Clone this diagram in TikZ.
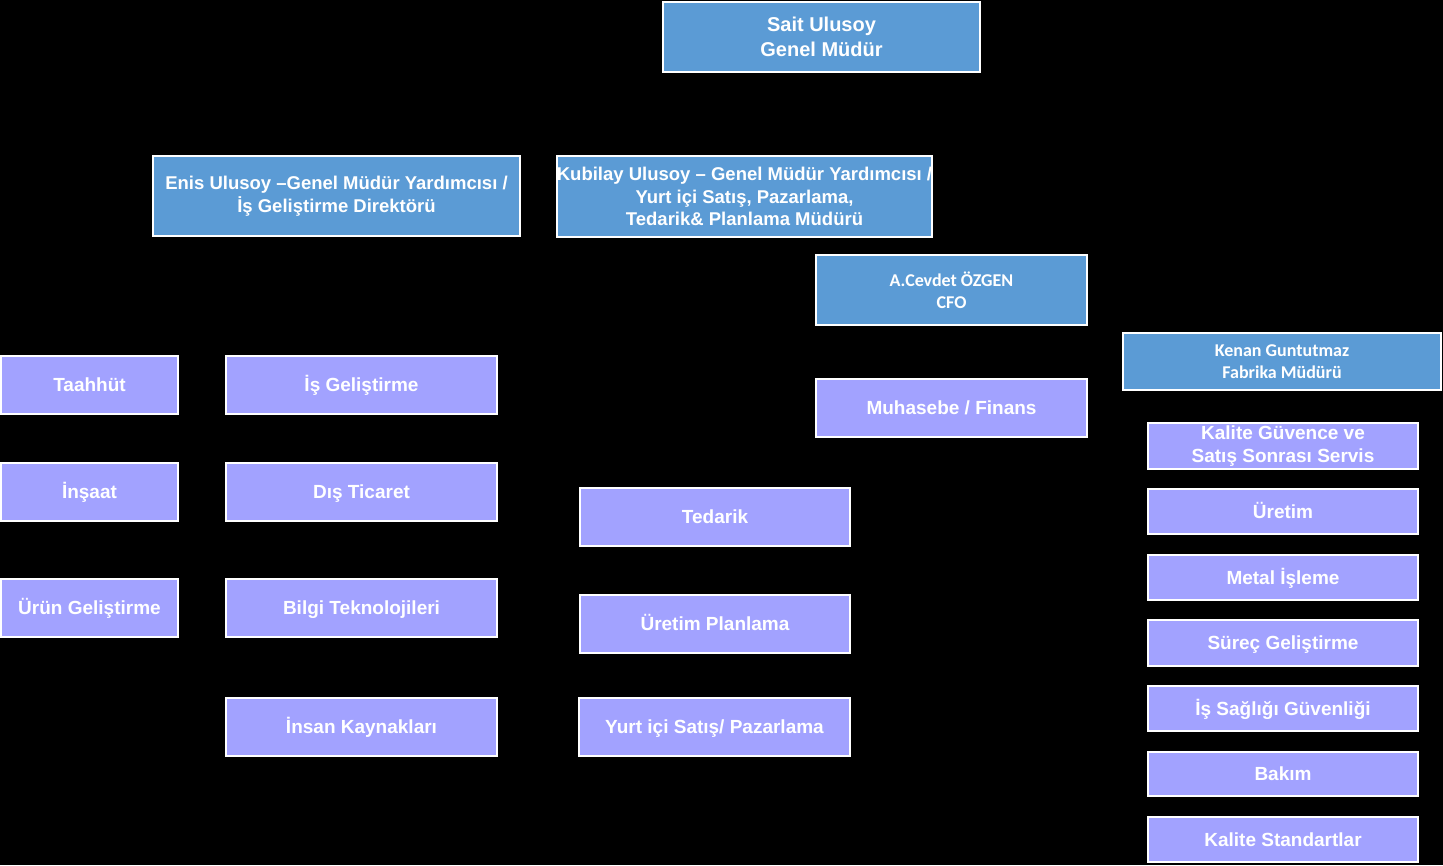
\documentclass[tikz,border=0pt]{standalone}
\usepackage{fontspec}
\setmainfont{Liberation Sans}
\newfontfamily\calibrifont{Carlito}
\usepackage{xcolor}
\usetikzlibrary{positioning}

\definecolor{headblue}{RGB}{91,155,213}
\definecolor{unitlilac}{RGB}{162,162,255}

\begin{document}
\begin{tikzpicture}[x=1pt, y=-1pt,
    head/.style={rectangle, draw=white, line width=2pt, fill=headblue, text=white, inner sep=0pt, align=center, font=\bfseries},
    unit/.style={rectangle, draw=white, line width=2pt, fill=unitlilac, text=white, inner sep=0pt, align=center, font=\bfseries\fontsize{19}{23}\selectfont, text height=18pt, text depth=4.4pt},
    twoline/.style={text height=, text depth=},
    leftunit/.style={unit, minimum width=177pt, minimum height=58pt},
    midunit/.style={unit, minimum width=271pt, minimum height=58pt},
    rightunit/.style={unit, minimum width=270pt, minimum height=45pt}]

    % Background
    \fill[black] (0,0) rectangle (1443,865);
    \useasboundingbox (0,0) rectangle (1443,865);

    % Management
    \node[head, minimum width=317pt, minimum height=70pt, font=\bfseries\fontsize{20}{25}\selectfont] (gm) at (821.5,37) {Sait Ulusoy\\Genel Müdür};
    \node[head, minimum width=367pt, minimum height=80pt, font=\bfseries\fontsize{18.5}{23}\selectfont] (enis) at (336.5,196) {Enis Ulusoy –Genel Müdür Yardımcısı /\\İş Geliştirme Direktörü};
    \node[head, minimum width=375pt, minimum height=81pt, font=\bfseries\fontsize{18.5}{22.5}\selectfont] (kubilay) at (744.5,196.5) {Kubilay Ulusoy – Genel Müdür Yardımcısı /\\Yurt içi Satış, Pazarlama,\\Tedarik\& Planlama Müdürü};
    \node[head, minimum width=271pt, minimum height=70pt, font=\calibrifont\bfseries\fontsize{18}{22}\selectfont] (cfo) at (951.5,290) {A.Cevdet ÖZGEN\\CFO};
    \node[head, minimum width=318pt, minimum height=57pt, font=\calibrifont\bfseries\fontsize{18}{22}\selectfont] (kenan) at (1282,361.5) {Kenan Guntutmaz\\Fabrika Müdürü};

    % Business development units
    \node[leftunit] (taahhut) at (89.5,385) {Taahhüt};
    \node[leftunit] (insaat) at (89.5,491.5) {İnşaat};
    \node[leftunit] (urungel) at (89.5,608) {Ürün Geliştirme};
    \node[midunit] (isgel) at (361.5,385) {İş Geliştirme};
    \node[midunit] (disticaret) at (361.5,491.5) {Dış Ticaret};
    \node[midunit] (bilgi) at (361.5,608) {Bilgi Teknolojileri};
    \node[midunit] (insan) at (361.5,727) {İnsan Kaynakları};

    % Sales, supply and planning
    \node[midunit, minimum width=270pt] (tedarik) at (715,517) {Tedarik};
    \node[midunit, minimum width=270pt] (uretimpl) at (715,624) {Üretim Planlama};
    \node[midunit, minimum width=271pt] (yurtici) at (714.5,727) {Yurt içi Satış/ Pazarlama};

    % Finance
    \node[midunit] (muhasebe) at (951.5,408) {Muhasebe / Finans};

    % Factory
    \node[rightunit, twoline, minimum height=46pt] (kalite) at (1283,446) {Kalite Güvence ve\\Satış Sonrası Servis};
    \node[rightunit] (uretim) at (1283,511.5) {Üretim};
    \node[rightunit] (metal) at (1283,577.5) {Metal İşleme};
    \node[rightunit, minimum height=46pt] (surec) at (1283,643) {Süreç Geliştirme};
    \node[rightunit] (isg) at (1283,708.5) {İş Sağlığı Güvenliği};
    \node[rightunit, minimum height=44pt] (bakim) at (1283,774) {Bakım};
    \node[rightunit] (kalitestd) at (1283,839.5) {Kalite Standartlar};

\end{tikzpicture}
\end{document}
